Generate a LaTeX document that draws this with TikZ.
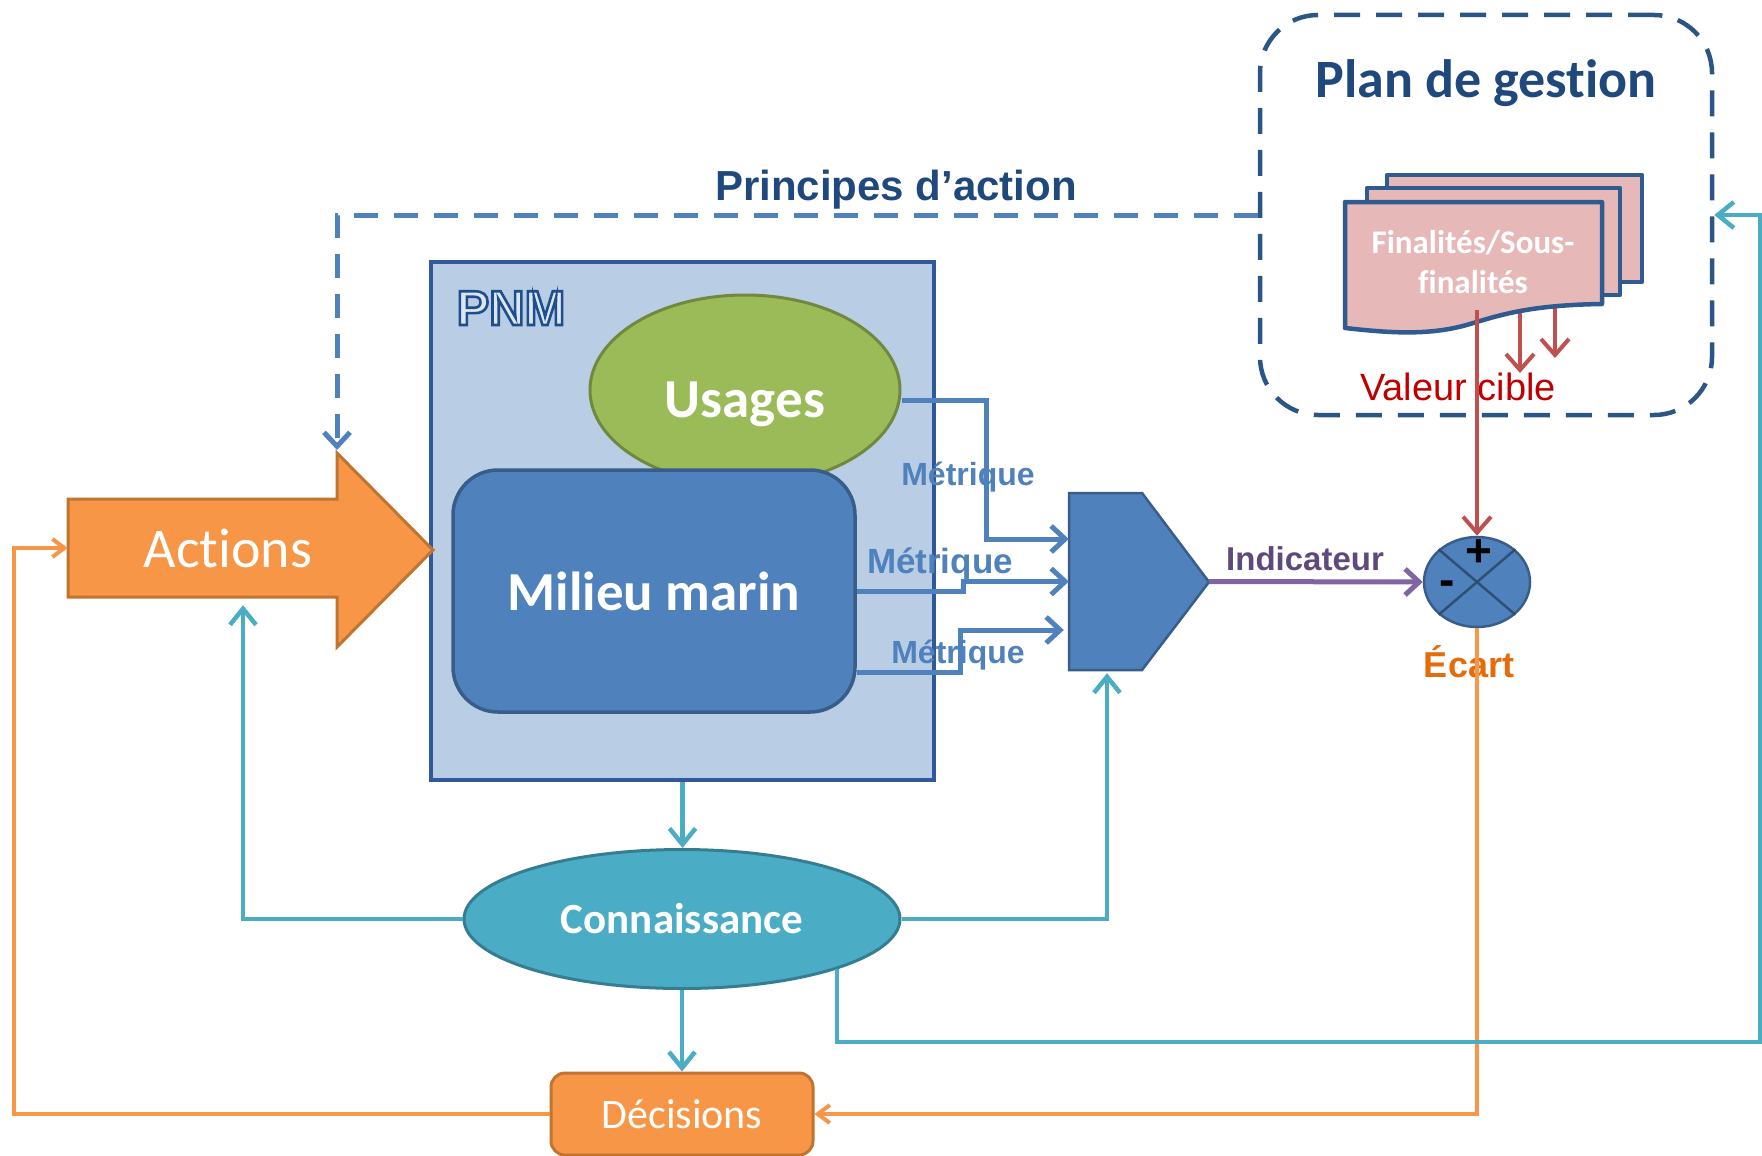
\documentclass[tikz,border=0pt]{standalone}
\usepackage{fontspec}
\setmainfont{Carlito}[Ligatures=CommonOff]
\newfontfamily\arialf{Liberation Sans}
\usetikzlibrary{arrows.meta,shapes.geometric,calc}
\definecolor{accblue}{HTML}{4F81BD}
\definecolor{accbluedk}{HTML}{385D8A}
\definecolor{txtdk}{HTML}{1F497D}
\definecolor{plandk}{HTML}{2C5587}
\definecolor{pnmfill}{HTML}{B9CDE5}
\definecolor{pnmdk}{HTML}{30589A}
\definecolor{pnmtxtlt}{HTML}{DCE6F2}
\definecolor{grn}{HTML}{9BBB59}
\definecolor{grndk}{HTML}{71893F}
\definecolor{tealc}{HTML}{4BACC6}
\definecolor{tealdk}{HTML}{357D91}
\definecolor{org}{HTML}{F79646}
\definecolor{orgdk}{HTML}{C0742F}
\definecolor{ecartorg}{HTML}{E46C0A}
\definecolor{purp}{HTML}{8064A2}
\definecolor{purptxt}{HTML}{5F497A}
\definecolor{redacc}{HTML}{C0504D}
\definecolor{valred}{HTML}{C00000}
\definecolor{pinkf}{HTML}{E6B9B8}
\definecolor{docdk}{HTML}{2F5B91}
% outlined text: light fill, dark blue stroke (text render mode 2)
\newcommand\pnmoutline[1]{\textcolor{pnmtxtlt}{\special{pdf:literal direct 0.122 0.306 0.549 RG 2.6 w 2 Tr}#1\special{pdf:literal direct 0 Tr}}}
\begin{document}
\begin{tikzpicture}[x=1pt,y=-1pt,
  lbl/.style={inner sep=0pt, anchor=base},
  metr/.style={draw=accblue, line width=5pt, -{Straight Barb[length=14pt,width=26pt]}},
  purpln/.style={draw=purp, line width=5pt, -{Straight Barb[length=14pt,width=26pt]}},
  redarr/.style={draw=redacc, line width=4pt, -{Straight Barb[length=16pt,width=28pt]}},
  orgarr/.style={draw=org, line width=4pt, -{Straight Barb[length=12pt,width=18pt]}},
  tealarr/.style={draw=tealc, line width=4.5pt, -{Straight Barb[length=16pt,width=26pt]}},
  princln/.style={draw=accblue, line width=5pt, dash pattern=on 24pt off 16pt, -{Straight Barb[length=14pt,width=26pt]}},
  docpage/.style={draw=docdk, fill=pinkf, line width=4.5pt, line join=round},
]
\useasboundingbox (0,0) rectangle (1762,1156);

% ---------- Plan de gestion ----------
\node[draw=plandk, line width=4.5pt, dash pattern=on 26pt off 16pt, rounded corners=58pt,
      minimum width=452pt, minimum height=400pt, inner sep=0pt] (plan) at (1486,215) {};
\node[lbl, font=\fontsize{54}{60}\selectfont\bfseries, text=txtdk] (plantitle) at (1486,97) {Plan de gestion};
\node[lbl, font=\arialf\fontsize{38}{42}\selectfont, text=valred] (valeur) at (1458,400) {Valeur cible};

% red arrows from the goals
\coordinate (vc) at (1477,310);
\coordinate (r2a) at (1520,300);
\coordinate (r2b) at (1520,373);
\coordinate (r3a) at (1555,300);
\coordinate (r3b) at (1555,358);
\draw[redarr] (r2a) -- (r2b);
\draw[redarr] (r3a) -- (r3b);

% document stack
\draw[docpage] (1387,175) rectangle (1642,282);
\draw[docpage] (1367,188) rectangle (1620,295);
\draw[docpage] (1345,202) -- (1602,202) -- (1602,304)
   .. controls (1530,305) and (1500,315) .. (1470,324)
   .. controls (1430,336) and (1390,333) .. (1345,328) -- cycle;
\node[align=center, text=white, font=\fontsize{33}{40}\selectfont\bfseries, inner sep=0pt] (fin) at (1473,262) {Finalités/Sous-\\finalités};

% ---------- PNM ----------
\node[draw=pnmdk, fill=pnmfill, line width=4pt, minimum width=503pt, minimum height=518pt, inner sep=0pt] (pnm) at (682.5,521) {};
\node[lbl, font=\arialf\bfseries\fontsize{49}{52}\selectfont] (pnmlbl) at (511,325) {\pnmoutline{PNM}};
\node[ellipse, draw=grndk, fill=grn, line width=3pt, minimum width=310pt, minimum height=190pt, inner sep=0pt,
      text=white, font=\fontsize{55}{58}\selectfont\bfseries, text height=54pt, text depth=0pt] (usages) at (745,390) {Usages};
\node[draw=accbluedk, fill=accblue, line width=3.5pt, rounded corners=45pt, minimum width=402pt, minimum height=242pt,
      inner sep=0pt, text=white, font=\fontsize{55}{58}\selectfont\bfseries] (milieu) at (654,591) {Milieu marin};

% ---------- Actions ----------
\draw[draw=orgdk, fill=org, line width=3pt, line join=miter]
  (68,499) -- (337,499) -- (337,453) -- (433,550) -- (337,647) -- (337,597) -- (68,597) -- cycle;
\node[minimum width=320pt, minimum height=98pt, inner sep=0pt, text=white, font=\fontsize{56}{60}\selectfont] (actions) at (228,548) {Actions};
\coordinate (ahead) at (337,450);

% ---------- aggregator ----------
\draw[draw=accbluedk, fill=accblue, line width=2.5pt, line join=miter]
  (1069,493) -- (1142,493) -- (1209,582) -- (1142,670) -- (1069,670) -- cycle;
\node[minimum width=140pt, minimum height=177pt, inner sep=0pt] (agg) at (1139,581.5) {};

% ---------- comparator ----------
\node[ellipse, draw=accbluedk, fill=accblue, line width=2.5pt, minimum width=106pt, minimum height=90pt, inner sep=0pt] (ecartc) at (1477,582) {};
\draw[draw=accbluedk!85!black, line width=2.5pt] (ecartc.north west) -- (ecartc.south east) (ecartc.north east) -- (ecartc.south west);
\node[inner sep=0pt, font=\arialf\bfseries\fontsize{46}{46}\selectfont] (plus) at (1479,553) {+};
\node[inner sep=0pt, font=\arialf\bfseries\fontsize{46}{46}\selectfont] (minus) at (1447,588) {-};

% ---------- Connaissance / Décisions ----------
\node[ellipse, draw=tealdk, fill=tealc, line width=3pt, minimum width=436pt, minimum height=139pt, inner sep=0pt,
      text=white, font=\fontsize{43}{46}\selectfont\bfseries] (conn) at (682,919) {Connaissance};
\node[draw=orgdk, fill=org, line width=3pt, rounded corners=14pt, minimum width=262pt, minimum height=82pt, inner sep=0pt,
      text=white, font=\fontsize{42}{46}\selectfont] (dec) at (682,1114) {Décisions};

% ---------- labels ----------
\node[lbl, font=\arialf\bfseries\fontsize{42}{46}\selectfont, text=txtdk] (princ) at (896,200) {Principes d’action};
\node[lbl, font=\arialf\bfseries\fontsize{32}{36}\selectfont, text=accblue] (m1) at (968,485) {Métrique};
\node[lbl, font=\arialf\bfseries\fontsize{35}{38}\selectfont, text=accblue] (m2) at (940,573) {Métrique};
\node[lbl, font=\arialf\bfseries\fontsize{32}{36}\selectfont, text=accblue] (m3) at (958,663) {Métrique};
\node[lbl, font=\arialf\bfseries\fontsize{33}{36}\selectfont, text=purptxt] (ind) at (1305,570) {Indicateur};
\node[lbl, font=\arialf\bfseries\fontsize{36}{38}\selectfont, text=ecartorg] (ecart) at (1469,677) {Écart};

% ---------- connectors ----------
\coordinate (br) at (1760,1042);
\draw[princln] (plan.west) -| (ahead);
\draw[metr] ([yshift=-10pt]usages.east) -- ++(85,0) |- ([yshift=42.5pt]agg.west);
\draw[metr] (milieu.east) -- ++(107,0) |- (agg.west);
\draw[metr] ([yshift=-81pt]milieu.east) -- ++(104,0) |- ([yshift=-48.5pt,xshift=-5pt]agg.west);
\draw[purpln] (agg.east) -- (ecartc.west);
\draw[redarr] (vc) -- (ecartc.north);
\draw[orgarr] (ecartc.south) |- (dec.east);
\draw[orgarr] (dec.west) -- ++(-536,0) |- (actions.west);
\draw[tealarr] (pnm.south) -- (pnm.south |- conn.north);
\draw[tealarr] (conn.south) -- (dec.north);
\draw[tealarr] (conn.west) -| ([xshift=15pt,yshift=-8pt]actions.south);
\draw[tealarr] (conn.east) -| ([xshift=-32pt,yshift=-3pt]agg.south);
\draw[tealarr] (conn.-18) |- (br) |- (plan.east);
\end{tikzpicture}
\end{document}
